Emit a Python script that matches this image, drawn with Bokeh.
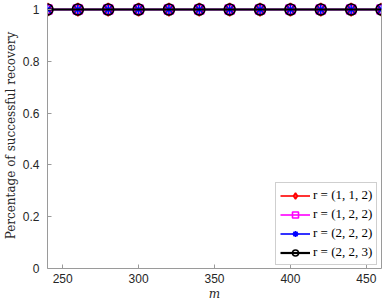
from bokeh.plotting import figure
from bokeh.models import Range1d, FixedTicker, Legend, LegendItem, LinearAxis
from bokeh.embed import file_html
from bokeh.resources import INLINE

m = [240, 260, 280, 300, 320, 340, 360, 380, 400, 420, 440, 460]
rec_112 = [1, 1, 1, 1, 1, 1, 1, 1, 1, 1, 1, 1]
rec_122 = [1, 1, 1, 1, 1, 1, 1, 1, 1, 1, 1, 1]
rec_222 = [1, 1, 1, 1, 1, 1, 1, 1, 1, 1, 1, 1]
rec_223 = [1, 1, 1, 1, 1, 1, 1, 1, 1, 1, 1, 1]
labels = ["r = (1, 1, 2)", "r = (1, 2, 2)", "r = (2, 2, 2)", "r = (2, 2, 3)"]
xticks = [250, 300, 350, 400, 450]
yticks = [0, 0.2, 0.4, 0.6, 0.8, 1]

p = figure(width=388, height=306, output_backend="svg", toolbar_location=None,
           x_range=Range1d(240, 460), y_range=Range1d(0, 1.027),
           min_border_left=44, min_border_right=7, min_border_top=2, min_border_bottom=38)
ax_col = "#9a9a9a"
p.outline_line_color = None
p.grid.visible = False
p.background_fill_color = "white"

for ax in p.xaxis + p.yaxis:
    ax.major_tick_in = 4
    ax.major_tick_out = 0
    ax.minor_tick_line_color = None
    ax.axis_line_color = ax_col
    ax.major_tick_line_color = ax_col
    ax.major_label_text_font = "Liberation Sans"
    ax.major_label_text_font_size = "12px"
    ax.major_label_text_color = "#262626"
    ax.axis_label_text_font = "DejaVu Serif"
    ax.axis_label_text_font_style = "normal"
    ax.axis_label_text_font_size = "12px"
    ax.axis_label_text_color = "#262626"

p.xaxis.ticker = FixedTicker(ticks=xticks)
p.yaxis.ticker = FixedTicker(ticks=yticks)
p.yaxis.bounds = (0, 1)
p.yaxis.major_label_overrides = {0: "0", 1: "1"}
p.xaxis.axis_label = "m"
p.xaxis.axis_label_text_font_style = "italic"
p.xaxis.axis_label_standoff = 1
p.xaxis.major_label_standoff = 5
p.yaxis.axis_label = "Percentage of successful recovery"
p.yaxis.axis_label_standoff = 2
p.yaxis.major_label_standoff = 8

right = LinearAxis(ticker=FixedTicker(ticks=[]), bounds=(0, 1), axis_line_color=ax_col,
                   major_tick_line_color=None, minor_tick_line_color=None)
p.add_layout(right, "right")

lw = 1.6
r1l = p.line(m, rec_112, color="red", line_width=lw)
r1m = p.scatter(m, rec_112, marker="diamond", size=13, line_color="red", fill_color=None, line_width=lw)
r2l = p.line(m, rec_122, color="magenta", line_width=lw)
r2m = p.scatter(m, rec_122, marker="square", size=9, line_color="magenta", fill_color=None, line_width=lw)
r3l = p.line(m, rec_222, color="blue", line_width=lw)
r3m = p.scatter(m, rec_222, marker="asterisk", size=10, line_color="blue", line_width=lw)
r4l = p.line(m, rec_223, color="black", line_width=2.2)
r4m = p.scatter(m, rec_223, marker="circle", size=11, line_color="black", fill_color=None, line_width=lw)

legend = Legend(items=[
    LegendItem(label=labels[0], renderers=[r1l, r1m]),
    LegendItem(label=labels[1], renderers=[r2l, r2m]),
    LegendItem(label=labels[2], renderers=[r3l, r3m]),
    LegendItem(label=labels[3], renderers=[r4l, r4m]),
], location=(228, 3))
legend.label_text_font = "Liberation Serif"
legend.label_text_font_size = "13px"
legend.label_text_color = "black"
legend.glyph_width = 30
legend.glyph_height = 15
legend.label_height = 15
legend.spacing = 3
legend.padding = 4
legend.margin = 0
legend.label_standoff = 3
legend.border_line_color = "#a0a0a0"
legend.background_fill_alpha = 1
p.add_layout(legend, "center")

open("out.html", "w").write(file_html(p, INLINE))
